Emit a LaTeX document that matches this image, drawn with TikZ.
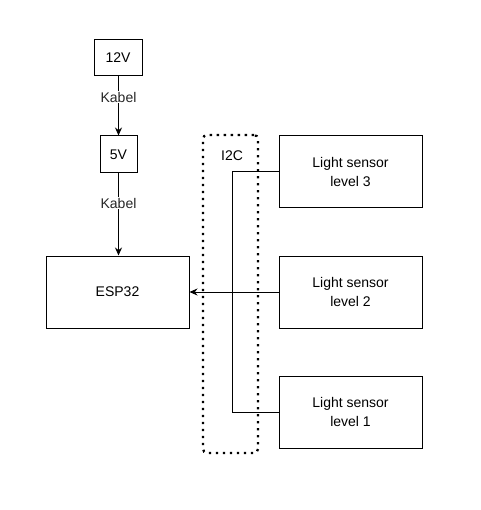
\documentclass[tikz,border=0pt]{standalone}
\usepackage{fontspec}
\setmainfont{Liberation Sans}
\usetikzlibrary{arrows.meta}
\begin{document}
\begin{tikzpicture}[x=1pt,y=-1pt,
  box/.style={draw,line width=1pt,minimum width=143pt,minimum height=72pt,inner sep=0pt,align=center,font=\fontsize{14}{19}\selectfont},
  sbox/.style={draw,line width=1pt,inner sep=0pt,font=\fontsize{14}{17}\selectfont},
  lbl/.style={fill=white,inner sep=1pt,font=\fontsize{14}{17}\selectfont,text=black!85},
  conn/.style={line width=1pt,-{Stealth[length=8pt,width=7pt]}},
  bus/.style={line width=1pt},
  dotbox/.style={draw,line width=2.3pt,dash pattern=on 2.3pt off 4.7pt,rounded corners=4pt,minimum width=55pt,minimum height=318pt,inner sep=0pt}]
\useasboundingbox (0,0) rectangle (480,510);
\node[dotbox] (i2c) at (230.5,294) {};
\node[font=\fontsize{14}{17}\selectfont] (i2ct) at (232,156) {I2C};
\node[sbox,minimum width=48pt,minimum height=36pt] (v12) at (118,58) {12V};
\node[sbox,minimum width=37pt,minimum height=37pt] (v5) at (118.5,154.5) {5V};
\node[box] (esp) at (117.5,292) {ESP32};
\node[box] (s3) at (350.5,172) {Light sensor\\level 3};
\node[box] (s2) at (350.5,292) {Light sensor\\level 2};
\node[box] (s1) at (350.5,412) {Light sensor\\level 1};
\coordinate (busx) at (232,0);
\draw[conn] (v12.south -| v5.north) -- node[lbl,pos=0.35] {Kabel} (v5.north);
\draw[conn] (v5.south) -- node[lbl,pos=0.36] {Kabel} (v5.south |- esp.north);
\draw[bus] (s3.west) -- (s3.west -| busx) -- (s1.west -| busx) -- (s1.west);
\draw[conn,line width=0.8pt] (s2.west) -- (esp.east);
\end{tikzpicture}
\end{document}
